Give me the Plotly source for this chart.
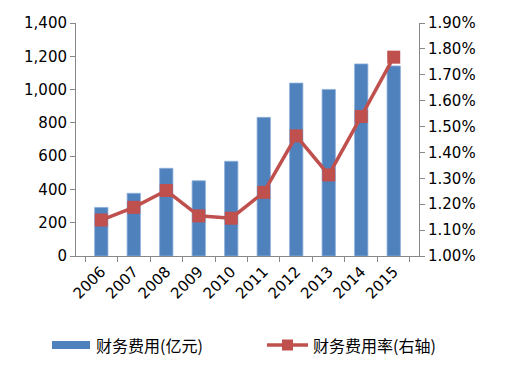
import plotly.graph_objects as go

years = ["2006", "2007", "2008", "2009", "2010", "2011", "2012", "2013", "2014", "2015"]
expense = [292, 377, 527, 452, 569, 833, 1039, 1001, 1154, 1142]
expense_rate = [1.139, 1.188, 1.253, 1.155, 1.146, 1.246, 1.464, 1.313, 1.539, 1.768]  # percent

bar_name = "财务费用(亿元)"
line_name = "财务费用率(右轴)"

BAR_COLOR = "#4F81BD"
LINE_COLOR = "#C0504D"

OFF = 8  # page body margin
W, H = 507, 370
L, R, T, B = 76 - OFF, 88 + OFF, 23 - OFF, 114 + OFF
PW, PH = W - L - R, H - T - B


def px(x):
    return (x - OFF - L) / PW


def py(y):
    return (H - B - (y - OFF)) / PH


fig = go.Figure()
fig.add_trace(go.Bar(
    x=years, y=expense, name=bar_name,
    marker=dict(color=BAR_COLOR, line=dict(color="#8EB0DA", width=0.8)),
    yaxis="y",
))
fig.add_trace(go.Scatter(
    x=years, y=[v / 100 for v in expense_rate], name=line_name,
    mode="lines+markers",
    line=dict(color=LINE_COLOR, width=3.5),
    marker=dict(symbol="square", size=13, color=LINE_COLOR),
    yaxis="y2",
))

# manual legend
legend_font = dict(family="Noto Sans CJK SC", size=16, color="#000000")
fig.add_shape(type="rect", xref="paper", yref="paper",
              x0=px(52), x1=px(90), y0=py(349), y1=py(341),
              fillcolor=BAR_COLOR, line=dict(width=0))
fig.add_annotation(text=bar_name, xref="paper", yref="paper",
                   x=px(94), y=py(345), xanchor="left", yanchor="middle",
                   showarrow=False, font=legend_font)
fig.add_shape(type="line", xref="paper", yref="paper",
              x0=px(267), x1=px(308), y0=py(345), y1=py(345),
              line=dict(color=LINE_COLOR, width=3.5))
fig.add_shape(type="rect", xref="paper", yref="paper",
              x0=px(282), x1=px(293), y0=py(350.5), y1=py(339.5),
              fillcolor=LINE_COLOR, line=dict(width=0))
fig.add_annotation(text=line_name, xref="paper", yref="paper",
                   x=px(311), y=py(345), xanchor="left", yanchor="middle",
                   showarrow=False, font=legend_font)

axis_font = dict(family="DejaVu Sans, Liberation Sans, sans-serif", size=15, color="#000000")
fig.update_layout(
    width=W, height=H,
    margin=dict(l=L, r=R, t=T, b=B, autoexpand=False),
    paper_bgcolor="white", plot_bgcolor="white",
    bargap=0.59,
    showlegend=False,
    xaxis=dict(
        showline=True, linecolor="#888888", linewidth=1,
        ticks="outside", ticklen=5, tickcolor="#888888",
        tickson="boundaries", tickangle=-45,
        tickfont=axis_font, showgrid=False,
    ),
    yaxis=dict(
        range=[0, 1400], dtick=200, tickformat=",",
        showline=True, linecolor="#888888", linewidth=1,
        ticks="outside", ticklen=5, tickcolor="#888888",
        tickfont=axis_font, showgrid=False, zeroline=False,
    ),
    yaxis2=dict(
        range=[0.010, 0.019], dtick=0.001, tickformat=".2%",
        overlaying="y", side="right",
        showline=True, linecolor="#888888", linewidth=1,
        ticks="outside", ticklen=5, tickcolor="#888888",
        tickfont=axis_font, showgrid=False, zeroline=False,
    ),
)

fig.write_html("out.html")
